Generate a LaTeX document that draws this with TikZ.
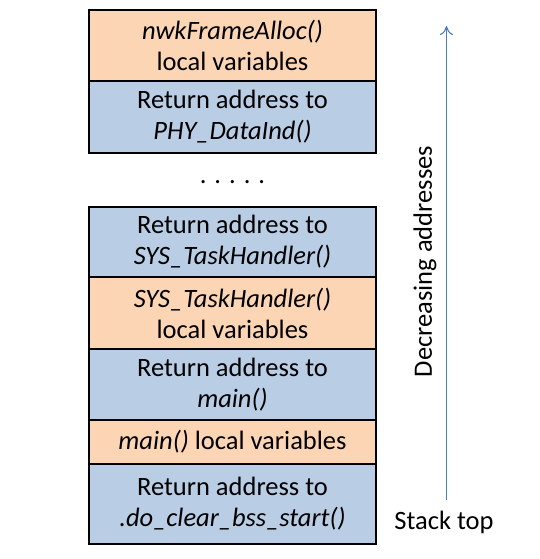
\documentclass[tikz,border=0pt]{standalone}
\usepackage{fontspec}
\setmainfont{Carlito}
\usetikzlibrary{arrows.meta}
\definecolor{frameorange}{HTML}{FCD5B5}
\definecolor{frameblue}{HTML}{B9CDE5}
\definecolor{arrowblue}{HTML}{4A7EBB}
\begin{document}
\begin{tikzpicture}[x=1bp,y=-1bp,
  cell/.style={draw=black, line width=1.3bp, minimum width=287bp, inner sep=0pt,
    align=center, font=\fontsize{26.5bp}{31bp}\selectfont},
  orangecell/.style={cell, fill=frameorange},
  bluecell/.style={cell, fill=frameblue},
  lbl/.style={font=\fontsize{26.5bp}{31bp}\selectfont, inner sep=0pt}]
\useasboundingbox (0,0) rectangle (540,559);
\node[orangecell, minimum height=71bp] (r1) at (232.5,45.5) {\textit{nwkFrameAlloc()}\\local variables};
\node[bluecell, minimum height=72bp] (r2) at (232.5,117) {Return address to\\\textit{PHY\_DataInd()}};
\node[lbl, anchor=base] (dots) at (232.5,184) {. . . . .};
\node[bluecell, minimum height=70bp] (r3) at (232.5,242) {Return address to\\\textit{SYS\_TaskHandler()}};
\node[orangecell, minimum height=72bp] (r4) at (232.5,313) {\textit{SYS\_TaskHandler()}\\local variables};
\node[bluecell, minimum height=71bp] (r5) at (232.5,384.5) {Return address to\\\textit{main()}};
\node[orangecell, minimum height=44bp] (r6) at (232.5,442) {\textit{main()} local variables};
\node[bluecell, minimum height=80bp] (r7) at (232.5,504) {Return address to\\\textit{.do\_clear\_bss\_start()}};
\coordinate (arrbot) at (446.5,500);
\coordinate (arrtop) at (446.5,26);
\draw[arrowblue, line width=1.1bp, -{To[length=9bp,width=13bp]}] (arrbot) -- (arrtop);
\node[lbl, rotate=90] (dec) at (425,261.5) {Decreasing addresses};
\node[lbl] (stop) at (444,522) {Stack top};
\end{tikzpicture}
\end{document}
